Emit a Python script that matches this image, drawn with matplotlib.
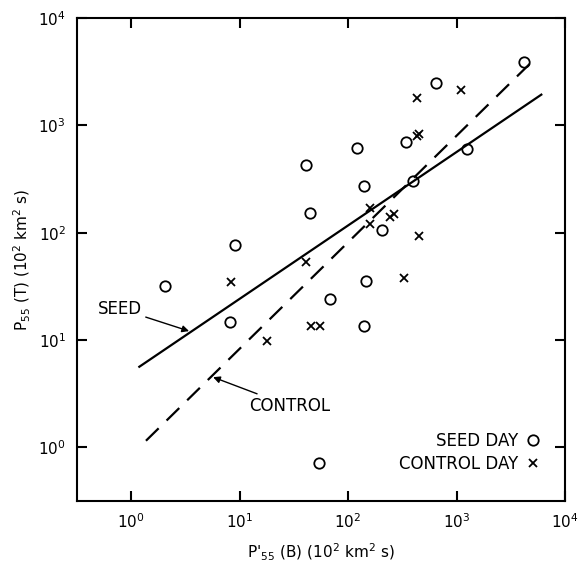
import matplotlib.pyplot as plt
import numpy as np

# seed day points (circles)
seed_x = [2.05, 9.1, 8.2, 41, 44.5, 121, 140, 145, 141, 67.5, 54, 206, 345, 395, 647, 1250, 4160]
seed_y = [31.7, 77, 14.8, 430, 152, 622, 275, 35.2, 13.6, 24.3, 0.71, 107, 707, 305, 2500, 600, 3900]

# control day points (crosses)
ctrl_x = [8.3, 18, 40.6, 45.2, 54.6, 158, 161, 245, 265, 326, 455, 430, 452, 436, 1100]
ctrl_y = [34.8, 9.75, 53.4, 13.6, 13.6, 170, 120, 140, 150, 37.9, 93.8, 800, 830, 1800, 2140]

# fitted lines (end points)
seed_line_x = [1.19, 6050]
seed_line_y = [5.63, 1935]
ctrl_line_x = [1.37, 4790]
ctrl_line_y = [1.15, 3790]

fig = plt.figure(figsize=(5.87, 5.66), dpi=100)
ax = fig.add_axes([0.131, 0.115, 0.8315, 0.853])

ax.plot(seed_line_x, seed_line_y, color="black", lw=1.6)
ax.plot(ctrl_line_x, ctrl_line_y, color="black", lw=1.6, dashes=(8, 5))

ax.plot(seed_x, seed_y, "o", mfc="none", mec="black", ms=7.5, mew=1.3, label="SEED DAY")
ax.plot(ctrl_x, ctrl_y, "x", color="black", ms=6, mew=1.3, label="CONTROL DAY")

ax.set_xscale("log")
ax.set_yscale("log")
ax.set_xlim(10 ** -0.5, 1e4)
ax.set_ylim(10 ** -0.5, 1e4)

ticks = [1, 10, 100, 1000, 10000]
ax.set_xticks(ticks)
ax.set_yticks(ticks)
ax.set_xticklabels([r"$10^{%d}$" % i for i in range(5)])
ax.set_yticklabels([r"$10^{%d}$" % i for i in range(5)])
ax.minorticks_off()
ax.tick_params(direction="in", length=7, width=1.5, top=True, right=True,
               labelsize=11, pad=8)
for s in ax.spines.values():
    s.set_linewidth(1.5)

ax.set_xlabel(r"P$'_{55}$ (B) (10$^2$ km$^2$ s)", fontsize=11, labelpad=8)
ax.set_ylabel(r"P$_{55}$ (T) (10$^2$ km$^2$ s)", fontsize=11, labelpad=4)

ax.annotate("SEED", xy=(3.42, 12.1), xytext=(1.25, 19.6), ha="right", va="center",
            fontsize=12, arrowprops=dict(arrowstyle="-|>", color="black", lw=1.0,
                                         mutation_scale=10, shrinkA=1, shrinkB=0))
ax.annotate("CONTROL", xy=(5.7, 4.5), xytext=(12.2, 2.42), ha="left", va="center",
            fontsize=12, arrowprops=dict(arrowstyle="-|>", color="black", lw=1.0,
                                         mutation_scale=10, shrinkA=1, shrinkB=0))

ax.legend(loc="lower right", bbox_to_anchor=(0.965, 0.041), frameon=False,
          markerfirst=False, fontsize=12, handlelength=0.8, handletextpad=0.5,
          labelspacing=0.3, borderpad=0)

fig.savefig("out.png", dpi=100)
